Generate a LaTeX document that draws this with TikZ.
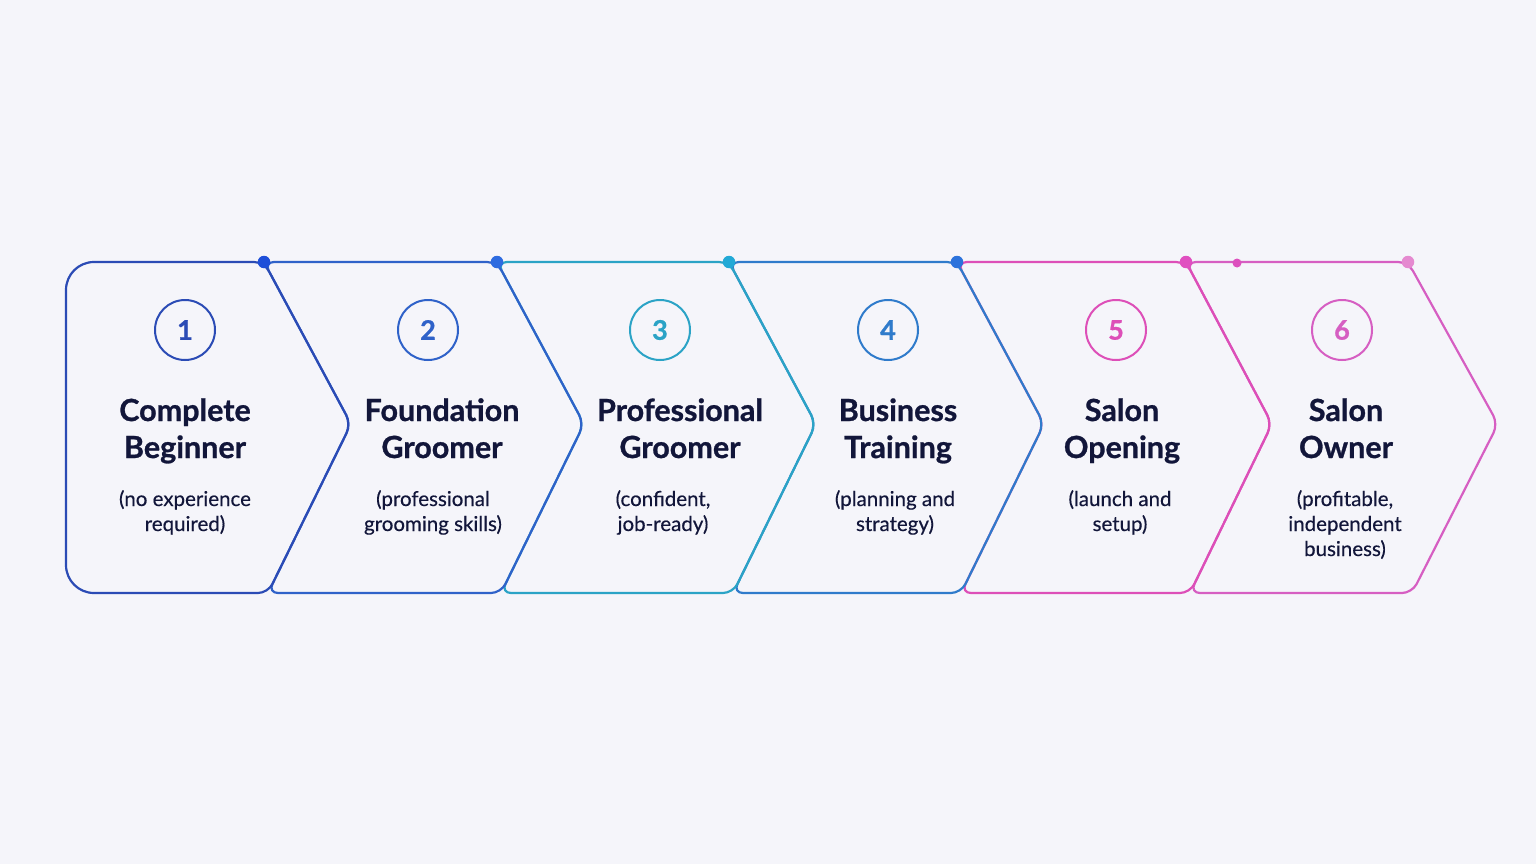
\documentclass[tikz,border=0pt]{standalone}
\usepackage{fontspec}
\setmainfont{Lato}[BoldFeatures={FakeBold=0.9}]
\newfontfamily\subfont{Lato}[FakeBold=0.35]
\definecolor{bgcol}{HTML}{F5F5FA}
\definecolor{ink}{HTML}{12163A}
\definecolor{cA}{HTML}{2B4BB5}
\definecolor{cB}{HTML}{2F62C9}
\definecolor{cC}{HTML}{2BA3C6}
\definecolor{cD}{HTML}{2F7BCB}
\definecolor{cE}{HTML}{DD4FB8}
\definecolor{cF}{HTML}{D65EC2}
\definecolor{dA}{HTML}{1E4FD9}
\definecolor{dB}{HTML}{2E6BE0}
\definecolor{dC}{HTML}{22A9D6}
\definecolor{dD}{HTML}{2C73DC}
\definecolor{dE}{HTML}{E04FC0}
\definecolor{dF}{HTML}{DD50BE}
\definecolor{dG}{HTML}{E58AD0}
\begin{document}
\begin{tikzpicture}[x=1pt,y=-1pt,line join=round,
  chev/.style={line width=2.2pt,rounded corners=10pt},
  numc/.style={circle,draw,line width=2pt,minimum size=60pt,inner sep=0pt,font=\bfseries\fontsize{27}{27}\selectfont},
  ttl/.style={align=center,anchor=base,text=ink,inner sep=0pt,font=\bfseries\fontsize{30.5}{37}\selectfont},
  subt/.style={align=center,anchor=base,text=ink,inner sep=0pt,font=\subfont\fontsize{20.5}{25}\selectfont},
  dotn/.style={circle,fill,inner sep=0pt,minimum size=12.5pt}]
\fill[bgcol] (0,0) rectangle (1536,864);
\useasboundingbox (0,0) rectangle (1536,864);
% shapes, drawn right to left so each shape's arrow edge lies on top
\draw[chev,cF] (1408,262) -- (1498,424) -- (1412,593) -- (1190,593) -- (1272,424) -- (1186,262) -- cycle;
\draw[chev,cE] (1186,262) -- (1272,424) -- (1190,593) -- (961,593) -- (1044,424) -- (957,262) -- cycle;
\draw[chev,cD] (957,262) -- (1044,424) -- (961,593) -- (733,593) -- (816,424) -- (729,262) -- cycle;
\draw[chev,cC] (729,262) -- (816,424) -- (733,593) -- (501,593) -- (584,424) -- (497,262) -- cycle;
\draw[chev,cB] (497,262) -- (584,424) -- (501,593) -- (268,593) -- (351,424) -- (264,262) -- cycle;
\draw[chev,cA] (160,262) -- (264,262) -- (351,424) -- (268,593) [rounded corners=28pt] -- (66,593) -- (66,262) -- cycle;
% dots
\node[dotn,dA] (d1) at (264,262) {};
\node[dotn,dB] (d2) at (497,262) {};
\node[dotn,dC] (d3) at (729,262) {};
\node[dotn,dD] (d4) at (957,262) {};
\node[dotn,dE] (d5) at (1186,262) {};
\node[dotn,dF,minimum size=9pt] (d6) at (1237,263) {};
\node[dotn,dG] (d7) at (1408,262) {};
% number circles
\node[numc,cA] (n1) at (185,330) {1};
\node[numc,cB] (n2) at (428,330) {2};
\node[numc,cC] (n3) at (660,330) {3};
\node[numc,cD] (n4) at (888,330) {4};
\node[numc,cE] (n5) at (1116,330) {5};
\node[numc,cF] (n6) at (1342,330) {6};
% titles
\node[ttl] (t1) at (185,458) {Complete\\Beginner};
\node[ttl] (t2) at (442,458) {Foundation\\Groomer};
\node[ttl] (t3) at (680,458) {Professional\\Groomer};
\node[ttl] (t4) at (898,458) {Business\\Training};
\node[ttl] (t5) at (1122,458) {Salon\\Opening};
\node[ttl] (t6) at (1346,458) {Salon\\Owner};
% subtitles
\node[subt] (s1) at (185,531) {(no experience\\required)};
\node[subt] (s2) at (433,531) {(professional\\grooming skills)};
\node[subt] (s3) at (663,531) {(confident,\\job-ready)};
\node[subt] (s4) at (895,531) {(planning and\\strategy)};
\node[subt] (s5) at (1120,531) {(launch and\\setup)};
\node[subt] (s6) at (1345,556) {(profitable,\\independent\\business)};
\end{tikzpicture}
\end{document}
